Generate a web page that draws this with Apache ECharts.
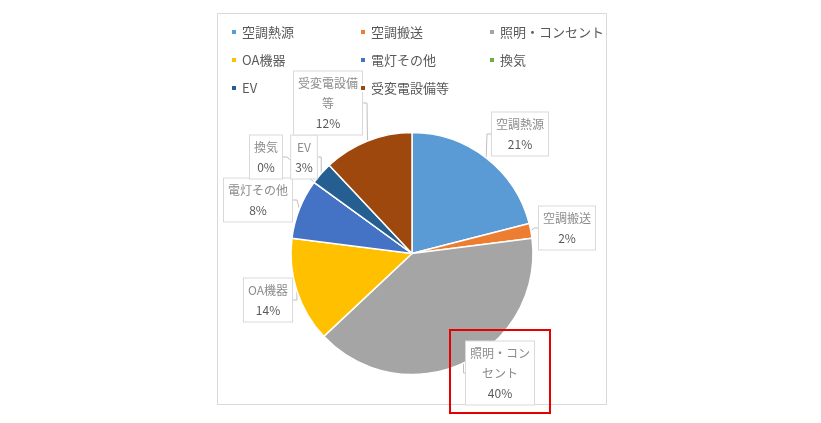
<!DOCTYPE html>
<html>
<head>
<meta charset="utf-8">
<script src="https://cdn.jsdelivr.net/npm/echarts@6/dist/echarts.min.js"></script>
<style>html,body{margin:0;padding:0;background:#fff}#c{width:821px;height:423px}</style>
</head>
<body>
<div id="c"></div>
<script>
// ---- data ----
var categories = ['空調熱源', '空調搬送', '照明・コンセント', 'OA機器', '電灯その他', '換気', 'EV', '受変電設備等'];
var values = [21, 2, 40, 14, 8, 0, 3, 12];
var colors = ['#5B9BD5', '#ED7D31', '#A5A5A5', '#FFC000', '#4472C4', '#70AD47', '#255E91', '#9E480E'];

// ---- layout (label box centres) ----
var labelPos = [[520,134],[567,228],[500,373],[268,300],[258,200],[266,157],[304,157],[328,103]];
var maxChars = 5;

var FONT = '"Noto Sans CJK JP", "Noto Sans", sans-serif';
var data = categories.map(function (n, i) {
  return { name: n, value: values[i], itemStyle: { color: colors[i] } };
});

function wrapName(name) {
  var parts = [];
  for (var i = 0; i < name.length; i += maxChars) parts.push('{n|' + name.slice(i, i + maxChars) + '}');
  return parts.join('\n');
}

function legendCol(left, names) {
  return {
    orient: 'vertical', left: left, top: 19, itemGap: 12,
    icon: 'rect', itemWidth: 6, itemHeight: 6,
    data: names,
    textStyle: { fontFamily: FONT, fontSize: 13, color: '#595959', lineHeight: 16 }
  };
}

var chart = echarts.init(document.getElementById('c'));
chart.setOption({
  animation: false,
  legend: [
    legendCol(225, [categories[0], categories[3], categories[6]]),
    legendCol(354, [categories[1], categories[4], categories[7]]),
    legendCol(483, [categories[2], categories[5]])
  ],
  graphic: [
    { type: 'rect', shape: { x: 217.5, y: 13.5, width: 389, height: 391 }, style: { fill: 'none', stroke: '#d9d9d9', lineWidth: 1 }, z: -1 },
    { type: 'rect', shape: { x: 450, y: 330, width: 100, height: 83 }, style: { fill: 'none', stroke: '#e60000', lineWidth: 2 }, z: 100 }
  ],
  series: [{
    type: 'pie',
    center: [412, 253.5],
    radius: 121,
    startAngle: 90,
    clockwise: true,
    avoidLabelOverlap: false,
    data: data,
    itemStyle: { borderColor: '#fff', borderWidth: 1.5 },
    label: {
      show: true,
      position: 'outside',
      formatter: function (p) { return wrapName(p.name) + '\n{p|' + Math.round(p.percent) + '%}'; },
      backgroundColor: '#fff',
      borderColor: '#d9d9d9',
      borderWidth: 1,
      padding: [2, 4],
      align: 'center',
      fontFamily: FONT,
      fontSize: 12,
      lineHeight: 20,
      rich: {
        n: { fontFamily: FONT, fontSize: 12, color: '#8c8c8c', lineHeight: 20, align: 'center' },
        p: { fontFamily: FONT, fontSize: 12, color: '#595959', lineHeight: 19, align: 'center' }
      }
    },
    labelLine: { show: true, length: 8, length2: 4, lineStyle: { color: '#bfbfbf', width: 1 } },
    labelLayout: function (params) {
      var pos = labelPos[params.dataIndex];
      return { x: pos[0], y: pos[1], align: 'center', verticalAlign: 'middle' };
    }
  }]
});
</script>
</body>
</html>
